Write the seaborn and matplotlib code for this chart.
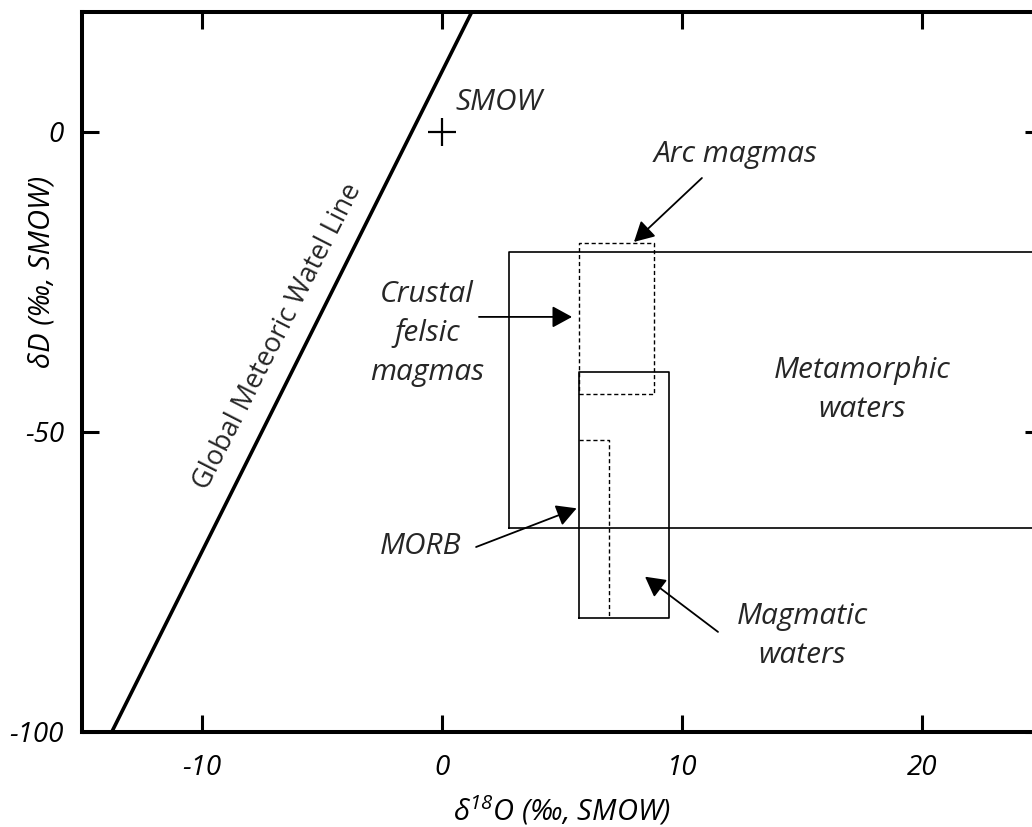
import matplotlib
matplotlib.use("Agg")
import matplotlib.pyplot as plt
import seaborn as sns
import pandas as pd

# ---- data ----
gmwl_d18o = [-13.75, 1.25]
gmwl_dD = [-100, 20]

smow_d18o = [0.0]
smow_dD = [0.0]

metamorphic_x = [2.8, 27.0]
metamorphic_y = [-66.0, -20.0]
magmatic_x = [5.7, 9.45]
magmatic_y = [-81.0, -40.0]
arc_x = [5.7, 8.85]
arc_y = [-43.75, -18.6]
morb_x = [5.7, 6.95]
morb_y = [-81.0, -51.4]

x_ticks = [-10, 0, 10, 20]
y_ticks = [0, -50, -100]

sns.set_theme(style="ticks")
plt.rcParams["font.family"] = ["Open Sans", "DejaVu Sans"]
plt.rcParams["font.style"] = "italic"
plt.rcParams["mathtext.default"] = "regular"

fig = plt.figure(figsize=(10.32, 8.27), dpi=100)
ax = fig.add_axes([82 / 1032, (827 - 731.5) / 827, 960 / 1032, 720 / 827])


def rect_df(xs, ys):
    x0, x1 = xs
    y0, y1 = ys
    return pd.DataFrame({"x": [x0, x1, x1, x0, x0], "y": [y0, y0, y1, y1, y0]})


# boxes
sns.lineplot(data=rect_df(metamorphic_x, metamorphic_y), x="x", y="y", sort=False,
             estimator=None, color="black", lw=1.2, ax=ax)
sns.lineplot(data=rect_df(magmatic_x, magmatic_y), x="x", y="y", sort=False,
             estimator=None, color="black", lw=1.2, ax=ax)
sns.lineplot(data=rect_df(arc_x, arc_y), x="x", y="y", sort=False,
             estimator=None, color="black", lw=1.0, linestyle=(0, (3, 2)), ax=ax)
morb_df = pd.DataFrame({"x": [morb_x[0], morb_x[1], morb_x[1]],
                        "y": [morb_y[1], morb_y[1], morb_y[0]]})
sns.lineplot(data=morb_df, x="x", y="y", sort=False,
             estimator=None, color="black", lw=1.0, linestyle=(0, (3, 2)), ax=ax)

# GMWL
sns.lineplot(x=gmwl_d18o, y=gmwl_dD, sort=False, estimator=None, color="black",
             lw=2.6, ax=ax)

# SMOW
sns.scatterplot(x=smow_d18o, y=smow_dD, marker="+", s=420, color="black",
                linewidth=1.6, ax=ax)

ax.set_xlim(-15, 25)
ax.set_ylim(-100, 20)
ax.set_xticks(x_ticks)
ax.set_yticks(y_ticks)
ax.set_xticklabels([str(t) for t in x_ticks])
ax.set_yticklabels([str(t) for t in y_ticks])

for s in ax.spines.values():
    s.set_linewidth(2.9)
    s.set_color("black")
ax.tick_params(axis="both", direction="in", length=12, width=2.2, color="black",
               top=True, right=True, labelsize=20, labelcolor="black")
ax.tick_params(axis="x", pad=16)
ax.tick_params(axis="y", pad=13)

ax.set_xlabel(r"δ$^{18}$O (‰, SMOW)", fontsize=21, color="black", va="center")
ax.xaxis.set_label_coords(0.5, -0.11)
ax.set_ylabel("δD (‰, SMOW)", fontsize=21, color="black", va="center")
ax.yaxis.set_label_coords(-0.0417, 0.638)

fs = 21.5
ls = 1.42
ax.text(0.55, 4.75, "SMOW", fontsize=fs, ha="left", va="center")
ax.text(12.25, -3.9, "Arc magmas", fontsize=fs, ha="center", va="center")
ax.text(-0.625, -33.6, "Crustal\nfelsic\nmagmas", fontsize=fs, ha="center",
        va="center", linespacing=ls)
ax.text(17.5, -43.1, "Metamorphic\nwaters", fontsize=fs, ha="center", va="center",
        linespacing=ls)
ax.text(-0.875, -69.25, "MORB", fontsize=fs, ha="center", va="center")
ax.text(15.0, -84.1, "Magmatic\nwaters", fontsize=fs, ha="center", va="center",
        linespacing=ls)
ax.text(-6.83, -34.1, "Global Meteoric Watel Line", fontsize=19.5, ha="center",
        va="center", rotation=63, rotation_mode="anchor", style="normal")

arrow = dict(arrowstyle="-|>,head_length=0.55,head_width=0.3", color="black",
             lw=1.3, mutation_scale=22, shrinkA=0, shrinkB=0)
ax.annotate("", xy=(8.0, -18.4), xytext=(10.83, -7.75), arrowprops=arrow)
ax.annotate("", xy=(5.42, -30.9), xytext=(1.54, -30.9), arrowprops=arrow)
ax.annotate("", xy=(5.61, -62.8), xytext=(1.42, -69.25), arrowprops=arrow)
ax.annotate("", xy=(8.46, -74.2), xytext=(11.5, -83.4), arrowprops=arrow)

fig.savefig("out.png", dpi=100)
